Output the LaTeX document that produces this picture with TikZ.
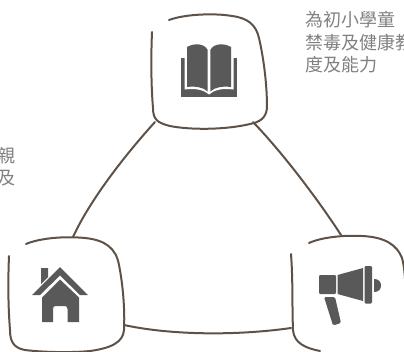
\documentclass[tikz,border=0pt]{standalone}
\usepackage{fontspec}
\setmainfont{Noto Sans CJK TC}
\definecolor{sketch}{HTML}{5E5248}
\definecolor{icon}{HTML}{595959}
\definecolor{txt}{HTML}{808080}
\tikzset{
  sketchline/.style={draw=sketch,line width=2pt,line cap=round,line join=round},
  iconfill/.style={fill=icon,draw=none},
  cutout/.style={fill=white,draw=none},
  caption/.style={text=txt,font=\fontsize{18pt}{20pt}\selectfont,inner sep=0pt}
}
\begin{document}
\begin{tikzpicture}[x=1pt,y=-1pt]
\useasboundingbox (0,0) rectangle (404,351);
\clip (0,0) rectangle (404,351);
% connector ends
\coordinate (topL) at (155,122);
\coordinate (topR) at (253,122);
\coordinate (leftT) at (73,237);
\coordinate (leftR) at (124,325);
\coordinate (rightT) at (341,235);
\coordinate (rightL) at (291,328);
% connectors
\draw[sketchline] (topL) .. controls (125,155) and (90,200) .. (leftT);
\draw[sketchline] (topR) .. controls (280,150) and (315,195) .. (rightT);
\draw[sketchline] (leftR) .. controls (170,335) and (235,336) .. (rightL);
% top box
\draw[sketchline] (169,20) .. controls (185,14) and (215,13) .. (232,16)
  .. controls (248,18) and (256,25) .. (259,38)
  .. controls (264,60) and (267,85) .. (267,108)
  .. controls (266,118) and (260,122) .. (250,124)
  .. controls (225,130) and (190,130) .. (170,126)
  .. controls (158,123) and (153,120) .. (153,108)
  .. controls (151,85) and (151,55) .. (152,32);
% left box
\draw[sketchline] (26,244) .. controls (40,238) and (65,236) .. (85,238)
  .. controls (105,240) and (116,248) .. (119,265)
  .. controls (123,285) and (125,310) .. (124,330)
  .. controls (123,342) and (112,348) .. (90,351)
  .. controls (70,353) and (40,352) .. (25,350)
  .. controls (14,348) and (10,342) .. (10,330)
  .. controls (8,305) and (8,280) .. (9,256);
% right box
\draw[sketchline] (309,243) .. controls (322,237) and (345,235) .. (362,236)
  .. controls (385,237) and (397,245) .. (402,258)
  .. controls (405,268) and (406,290) .. (406,310);
\draw[sketchline] (291,254) .. controls (293,280) and (292,305) .. (293,330)
  .. controls (294,343) and (305,348) .. (320,351);
% book
\fill[iconfill] (181,58) -- (237,58) -- (237,97) -- (181,97) -- cycle;
\fill[cutout] (184.5,50) -- (233.5,50) -- (233.5,89.5) .. controls (222,88) and (214,90) .. (209,94.5) .. controls (204,90) and (196,88) .. (184.5,89.5) -- cycle;
\fill[iconfill] (187,47) .. controls (194,43) and (204,43) .. (207.7,50) -- (207.7,91.5) .. controls (203,87) and (195,86) .. (187,87) -- cycle;
\fill[iconfill] (231,47) .. controls (224,43) and (214,43) .. (210.3,50) -- (210.3,91.5) .. controls (215,87) and (223,86) .. (231,87) -- cycle;
% house
\fill[iconfill] (41,268) -- (48,268) -- (48,277) -- (41,284) -- cycle;
\fill[iconfill] (60,267) -- (88,295) -- (80,295) -- (60,275.5) -- (40,295) -- (32,295) -- cycle;
\fill[iconfill] (60,279.5) -- (79,297.5) -- (79,322) -- (67.5,322) -- (67.5,309) .. controls (67.5,307) and (66,306) .. (65,306)
  -- (55.5,306) .. controls (54,306) and (53,307) .. (53,309) -- (53,322) -- (42,322) -- (42,297.5) -- cycle;
% megaphone
\fill[iconfill,rounded corners=1.2pt] (319,275) rectangle (336,294);
\fill[iconfill] (337.5,275) -- (363,268) -- (363,301) -- (337.5,294) -- cycle;
\fill[iconfill,rounded corners=1.2pt] (364.5,266) rectangle (372,303.5);
\fill[iconfill] (374,279) .. controls (379,279) and (381,282) .. (381,285.5) .. controls (381,289) and (379,292) .. (374,292) -- cycle;
\fill[iconfill,rounded corners=1.5pt] (324,297) -- (335,297) -- (341,323) -- (333,325.5) -- cycle;
% captions
\node[caption,anchor=west] (capA) at (305,20) {為初小學童};
\node[caption,anchor=west] (capB) at (305,43) {禁毒及健康教};
\node[caption,anchor=west] (capC) at (305,65) {度及能力};
\node[caption,anchor=east] (capD) at (16,156) {親};
\node[caption,anchor=east] (capE) at (16,178) {及};
\end{tikzpicture}
\end{document}
